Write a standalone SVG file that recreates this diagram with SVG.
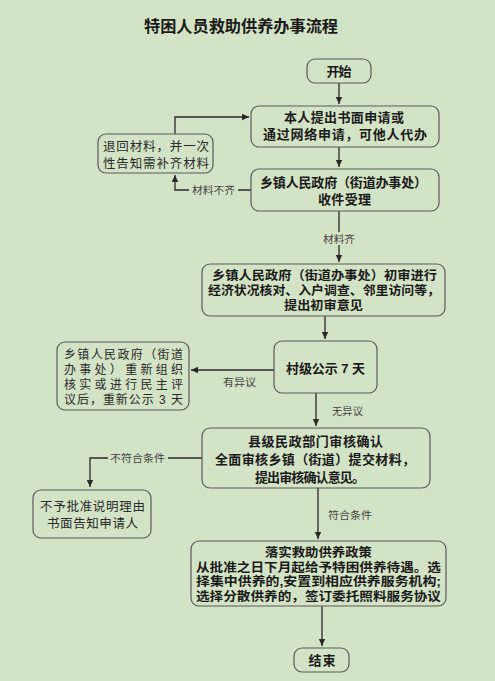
<svg xmlns="http://www.w3.org/2000/svg" width="495" height="681" viewBox="0 0 495 681">
<defs>
<marker id="ah" markerWidth="8" markerHeight="8" refX="7" refY="4" orient="auto" markerUnits="userSpaceOnUse">
<path d="M0,0.8 L7,4 L0,7.2 Z" fill="#2a2a2a"/>
</marker>
<style>
.box{fill:#d3e3c5;stroke:#5a5a5a;stroke-width:1.2}
.b{font-family:"Liberation Sans","Noto Sans CJK SC","Noto Sans CJK JP",sans-serif;font-size:13px;font-weight:bold;fill:#1a1a1a}
.s{font-size:12.5px}
.r{font-family:"Liberation Sans","Noto Sans CJK SC","Noto Sans CJK JP",sans-serif;font-size:12.5px;fill:#2a2a2a}
.rs{font-size:12px}
.l{font-family:"Liberation Sans","Noto Sans CJK SC","Noto Sans CJK JP",sans-serif;font-size:10px;fill:#444}
.c{fill:none;stroke:#2a2a2a;stroke-width:1.3}
</style>
</defs>
<rect width="495" height="681" fill="#d3e3c5"/>
<text x="241" y="32" text-anchor="middle" font-family="'Liberation Sans','Noto Sans CJK SC',sans-serif" font-size="16" font-weight="bold" fill="#1a1a1a" textLength="194" lengthAdjust="spacingAndGlyphs">特困人员救助供养办事流程</text>

<g id="connectors">
<path class="c" d="M339,83 V104" marker-end="url(#ah)"/>
<path class="c" d="M339,147 V167" marker-end="url(#ah)"/>
<path class="c" d="M251,190 H238 M189,190 H175 V175" marker-end="url(#ah)"/>
<path class="c" d="M175,134 V117 H249" marker-end="url(#ah)"/>
<path class="c" d="M339,211 V232 M339,245 V262" marker-end="url(#ah)"/>
<path class="c" d="M325,316 V339" marker-end="url(#ah)"/>
<path class="c" d="M274,370 H191" marker-end="url(#ah)"/>
<path class="c" d="M316,393 V426" marker-end="url(#ah)"/>
<path class="c" d="M202,458 H168 M108,458 H90 V487" marker-end="url(#ah)"/>
<path class="c" d="M318,488 V539" marker-end="url(#ah)"/>
<path class="c" d="M322,606 V646" marker-end="url(#ah)"/>
<text class="l" x="192" y="194" textLength="43" lengthAdjust="spacingAndGlyphs">材料不齐</text>
<text class="l" x="323" y="243" textLength="32" lengthAdjust="spacingAndGlyphs">材料齐</text>
<text class="l" x="223" y="386" textLength="33" lengthAdjust="spacingAndGlyphs">有异议</text>
<text class="l" x="332" y="415" textLength="31" lengthAdjust="spacingAndGlyphs">无异议</text>
<text class="l" x="110" y="462" textLength="55" lengthAdjust="spacingAndGlyphs">不符合条件</text>
<text class="l" x="328" y="519" textLength="44" lengthAdjust="spacingAndGlyphs">符合条件</text>
</g>

<g id="start">
<rect class="box" x="307" y="59" width="64" height="24" rx="8"/>
<text class="b" x="339" y="76" text-anchor="middle" textLength="25" lengthAdjust="spacing">开始</text>
</g>
<g id="apply">
<rect class="box" x="251" y="106" width="188" height="41" rx="8"/>
<text class="b" x="284" y="122" textLength="120" lengthAdjust="spacing">本人提出书面申请或</text>
<text class="b" x="263" y="139" textLength="164" lengthAdjust="spacing">通过网络申请，可他人代办</text>
</g>
<g id="receive">
<rect class="box" x="251" y="169" width="188" height="42" rx="8"/>
<text class="b" x="260" y="187" textLength="167" lengthAdjust="spacing">乡镇人民政府（街道办事处）</text>
<text class="b" x="318" y="204" textLength="53" lengthAdjust="spacing">收件受理</text>
</g>
<g id="return">
<rect class="box" x="98" y="134" width="115" height="39" rx="8"/>
<text class="r" x="103" y="151" textLength="106" lengthAdjust="spacing">退回材料，并一次</text>
<text class="r" x="103" y="168" textLength="106" lengthAdjust="spacing">性告知需补齐材料</text>
</g>
<g id="review">
<rect class="box" x="202" y="264" width="243" height="52" rx="8"/>
<text class="b s" x="212" y="280" textLength="225" lengthAdjust="spacingAndGlyphs">乡镇人民政府（街道办事处）初审进行</text>
<text class="b s" x="208" y="295" textLength="232" lengthAdjust="spacingAndGlyphs">经济状况核对、入户调查、邻里访问等，</text>
<text class="b s" x="284" y="310" textLength="79" lengthAdjust="spacingAndGlyphs">提出初审意见</text>
</g>
<g id="publicize">
<rect class="box" x="274" y="341" width="103" height="52" rx="8"/>
<text class="b" x="286" y="373" textLength="79" lengthAdjust="spacing">村级公示 7 天</text>
</g>
<g id="reverify">
<rect class="box" x="57" y="342" width="132" height="68" rx="8"/>
<text class="r rs" x="64" y="359" textLength="119" lengthAdjust="spacing">乡镇人民政府（街道</text>
<text class="r rs" x="64" y="374" textLength="119" lengthAdjust="spacing">办事处）重新组织</text>
<text class="r rs" x="64" y="389" textLength="119" lengthAdjust="spacing">核实或进行民主评</text>
<text class="r rs" x="64" y="404" textLength="119" lengthAdjust="spacing">议后，重新公示 3 天</text>
</g>
<g id="county">
<rect class="box" x="202" y="428" width="228" height="60" rx="8"/>
<text class="b" x="248" y="446" textLength="135" lengthAdjust="spacing">县级民政部门审核确认</text>
<text class="b" x="215" y="464" textLength="200" lengthAdjust="spacing">全面审核乡镇（街道）提交材料，</text>
<text class="b" x="255" y="482" textLength="110" lengthAdjust="spacing">提出审核确认意见。</text>
</g>
<g id="reject">
<rect class="box" x="33" y="490" width="118" height="48" rx="8"/>
<text class="r" x="40" y="511" textLength="105" lengthAdjust="spacing">不予批准说明理由</text>
<text class="r" x="47" y="528" textLength="91" lengthAdjust="spacing">书面告知申请人</text>
</g>
<g id="implement">
<rect class="box" x="191" y="541" width="255" height="65" rx="8"/>
<text class="b s" x="265" y="557" textLength="107" lengthAdjust="spacingAndGlyphs">落实救助供养政策</text>
<text class="b s" x="196" y="571.5" textLength="245" lengthAdjust="spacingAndGlyphs">从批准之日下月起给予特困供养待遇。选</text>
<text class="b s" x="196" y="586" textLength="245" lengthAdjust="spacingAndGlyphs">择集中供养的,安置到相应供养服务机构;</text>
<text class="b s" x="196" y="600.5" textLength="245" lengthAdjust="spacingAndGlyphs">选择分散供养的，签订委托照料服务协议</text>
</g>
<g id="end">
<rect class="box" x="294" y="648" width="55" height="24" rx="8"/>
<text class="b" x="322" y="665" text-anchor="middle" textLength="27" lengthAdjust="spacing">结束</text>
</g>
</svg>
